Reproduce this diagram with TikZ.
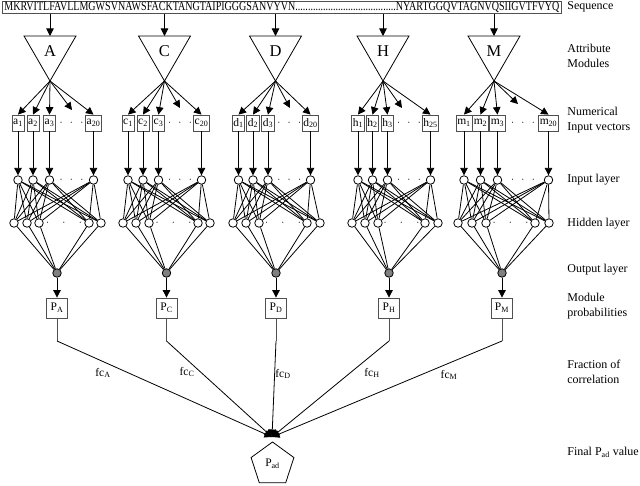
\documentclass[tikz,border=0pt]{standalone}
\usepackage{fontspec}
\setmainfont{Liberation Serif}
\usetikzlibrary{arrows.meta,shapes.geometric,calc}
\definecolor{boxgray}{RGB}{80,80,80}
\definecolor{outgray}{RGB}{128,128,128}
\newcommand\drawmodule[9]{%
  \node[tri] (T-#1) at (#3,51) {#1};
  \draw[arr] (seq.south -| T-#1) -- (T-#1.90);
  \foreach \x [count=\k] in {#4} {
    \node[vbox] (b-#1-\k) at (\x,123) {#2\textsubscript{\ifnum\k=4 #7\else\k\fi}};
    \node[inn] (i-#1-\k) at (\x,180) {};
    \draw[arr] (T-#1.270) -- (b-#1-\k.north);
    \draw[arr] (b-#1-\k) -- (i-#1-\k);
  }
  \coordinate (dt-#1) at (#8,#9);
  \draw[arr] (T-#1.270) -- (dt-#1);
  \node[dotlab] at ($(b-#1-3)!0.5!(b-#1-4)$) {$\cdot\;\,\cdot\;\,\cdot$};
  \node[dotlab] at ($(i-#1-3)!0.5!(i-#1-4)$) {$\cdot\;\,\cdot\;\,\cdot$};
  \foreach \x [count=\k] in {#5} { \node[inn] (h-#1-\k) at (\x,223) {}; }
  \node[dotlab] at ($(h-#1-3)!0.5!(h-#1-4)$) {$\cdot\quad\cdot\quad\cdot$};
  \foreach \j in {1,...,4} { \foreach \k in {1,...,5} { \draw (i-#1-\j) -- (h-#1-\k); } }
  \node[outn] (o-#1) at (#6,273) {};
  \foreach \k in {1,...,5} { \draw (h-#1-\k) -- (o-#1); }
  \node[pbox] (p-#1) at (#6,308) {P\textsubscript{#1}};
  \draw[arr] (o-#1) -- (p-#1);
  \coordinate (k-#1) at (#6,341);
  \draw[boxgray] (p-#1) -- (k-#1);
  \draw[arr] (k-#1) -- (conv);
}
\begin{document}
\begin{tikzpicture}[x=1pt,y=-1pt,
  line width=0.8pt,
  arr/.style={-{Triangle[length=7.5pt,width=7.5pt]}},
  tri/.style={draw, regular polygon, regular polygon sides=3, shape border rotate=180,
    minimum size=60pt, inner sep=0pt, outer sep=0pt, font=\fontsize{16.5}{16.5}\selectfont},
  vbox/.style={draw=boxgray, minimum height=16pt, inner xsep=1.2pt, inner ysep=0pt,
    fill=white, font=\fontsize{11.5}{11.5}\selectfont},
  inn/.style={circle, draw, fill=white, minimum size=8.5pt, inner sep=0pt},
  outn/.style={circle, draw, fill=outgray, minimum size=8.5pt, inner sep=0pt},
  pbox/.style={draw=boxgray, minimum width=21pt, minimum height=20pt, inner sep=0pt,
    fill=white, font=\fontsize{11.5}{11.5}\selectfont},
  dotlab/.style={inner sep=0pt, font=\fontsize{11}{11}\selectfont},
  rlab/.style={anchor=west, align=left, inner sep=0pt, font=\fontsize{12}{15}\selectfont},
  fclab/.style={inner sep=0pt, font=\fontsize{11.5}{11.5}\selectfont}
]
\useasboundingbox (0,0) rectangle (640,485);

\node[draw=boxgray, anchor=north west, minimum width=559pt, minimum height=12pt, inner sep=0pt] (seq) at (2,1)
  {\resizebox{555pt}{8.5pt}{MKRVITLFAVLLMGWSVNAWSFACKTANGTAIPIGGGSANVYVN........................................NYARTGGQVTAGNVQSIIGVTFVYQ}};

\node[draw, regular polygon, regular polygon sides=5, minimum size=45pt, inner sep=0pt,
  font=\fontsize{11.5}{11.5}\selectfont] (pad) at (272.5,464.5) {\raisebox{3pt}{P\textsubscript{ad}}};
\coordinate (conv) at (272,437);

\drawmodule{A}{a}{50}{18,33,49.5,93.5}{14,27,39,89,101}{57}{20}{72}{110}
\drawmodule{C}{c}{164.5}{128,143,158.5,201.5}{123,136,149,198,210}{166.5}{20}{180}{108}
\drawmodule{D}{d}{275.5}{238.5,253,268,310.5}{233,246,259,307,320}{276}{20}{290}{108}
\drawmodule{H}{h}{383}{358,372.5,387.5,430.5}{352,365,378,425,438}{389}{25}{402}{108}
\drawmodule{M}{m}{494}{464,480.5,497.5,548.5}{458,472,486,535,549}{502}{20}{518}{104}

\node[fclab] at (103,373) {fc\textsubscript{A}};
\node[fclab] at (187,372) {fc\textsubscript{C}};
\node[fclab] at (283,374) {fc\textsubscript{D}};
\node[fclab] at (372,373) {fc\textsubscript{H}};
\node[fclab] at (449,375) {fc\textsubscript{M}};

\node[rlab] at (567,7) {Sequence};
\node[rlab] at (567,55.5) {Attribute\\Modules};
\node[rlab] at (567,120) {Numerical\\Input vectors};
\node[rlab] at (567,180) {Input layer};
\node[rlab] at (567,224) {Hidden layer};
\node[rlab] at (567,270) {Output layer};
\node[rlab] at (567,306.5) {Module\\probabilities};
\node[rlab] at (567,371.5) {Fraction of\\correlation};
\node[rlab] at (567,452) {Final P\textsubscript{ad} value};
\end{tikzpicture}
\end{document}
